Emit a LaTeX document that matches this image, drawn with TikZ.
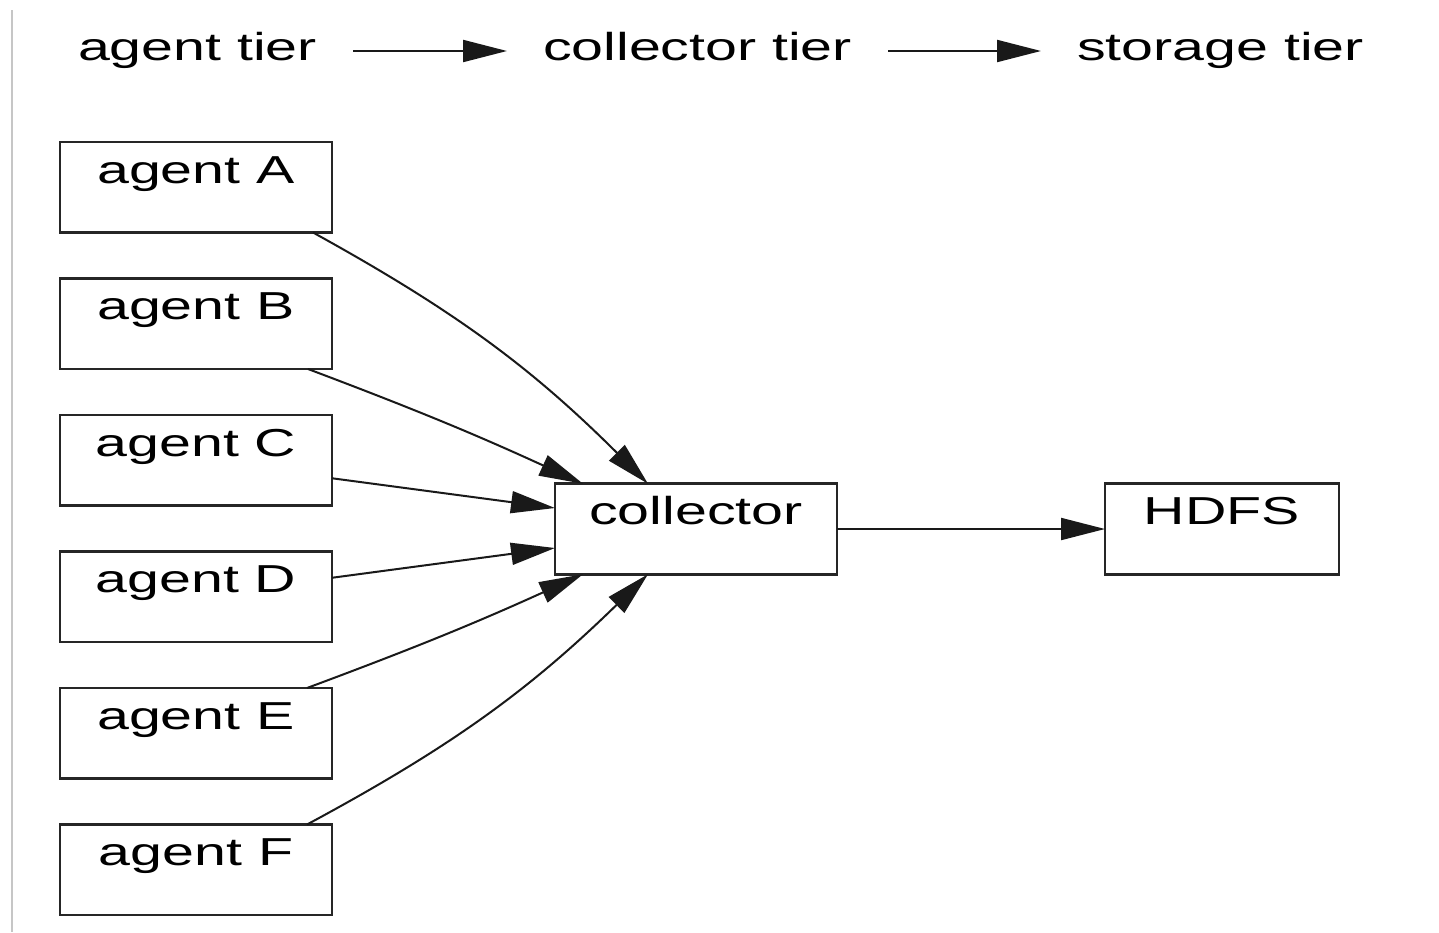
\documentclass[tikz,border=0pt]{standalone}
\usepackage{fontspec}
\setmainfont{Liberation Sans}
\usepackage{graphicx}
\usetikzlibrary{positioning,arrows.meta}
\newcommand{\widetext}[1]{\scalebox{1.47}[1]{#1}}

\begin{document}
\begin{tikzpicture}[
    x=0.5pt, y=-0.5pt,
    node distance=23pt and 134pt,
    box/.style={rectangle, draw=black!85, line width=1.4pt, outer sep=0pt, inner ysep=0pt, text height=20.5pt, text depth=24.75pt, font=\fontsize{19.5}{23}\selectfont},
    agentbox/.style={box, minimum width=136pt},
    tier/.style={inner xsep=18pt, inner ysep=0pt, outer sep=0pt, text height=14pt, text depth=5pt, font=\fontsize{19.5}{23}\selectfont},
    arrow/.style={-{Triangle[length=22pt, width=11pt]}, line width=1pt, color=black!90}
]

    \useasboundingbox (0,0) rectangle (1439,932);

    % Frame line on the left
    \draw[gray!45, line width=1pt] (12,10) -- (12,932);

    % Tier headings
    \node[tier, anchor=base west] (agenttier) at (42,60) {\widetext{agent tier}};
    \node[tier, anchor=base west] (collectortier) at (507,60) {\widetext{collector tier}};
    \node[tier, anchor=base west] (storagetier) at (1041,60) {\widetext{storage tier}};

    % Nodes
    \node[agentbox] (agentA) at (196,187.25) {\widetext{agent A}};
    \node[agentbox, below=of agentA] (agentB) {\widetext{agent B}};
    \node[agentbox, below=of agentB] (agentC) {\widetext{agent C}};
    \node[agentbox, below=of agentC] (agentD) {\widetext{agent D}};
    \node[agentbox, below=of agentD] (agentE) {\widetext{agent E}};
    \node[agentbox, below=of agentE] (agentF) {\widetext{agent F}};
    \node[box, minimum width=141pt] (collector) at (696,529) {\widetext{collector}};
    \node[box, minimum width=117pt, right=of collector] (hdfs) {\widetext{HDFS}};

    % Arrows
    \draw[arrow] (agenttier) -- (collectortier);
    \draw[arrow] (collectortier) -- (storagetier);
    \draw[arrow] ([xshift=-9.5pt]agentA.south east) to[bend left=8] ([xshift=46.5pt]collector.north west);
    \draw[arrow] ([xshift=-12pt]agentB.south east) to[bend left=2] ([xshift=14pt]collector.north west);
    \draw[arrow] ([yshift=-9pt]agentC.east) -- ([yshift=10.5pt]collector.west);
    \draw[arrow] ([yshift=9.5pt]agentD.east) -- ([yshift=-9.5pt]collector.west);
    \draw[arrow] ([xshift=-12.5pt]agentE.north east) to[bend right=2] ([xshift=14pt]collector.south west);
    \draw[arrow] ([xshift=-12.5pt]agentF.north east) to[bend right=8] ([xshift=46.5pt]collector.south west);
    \draw[arrow] (collector) -- (hdfs);

\end{tikzpicture}
\end{document}
